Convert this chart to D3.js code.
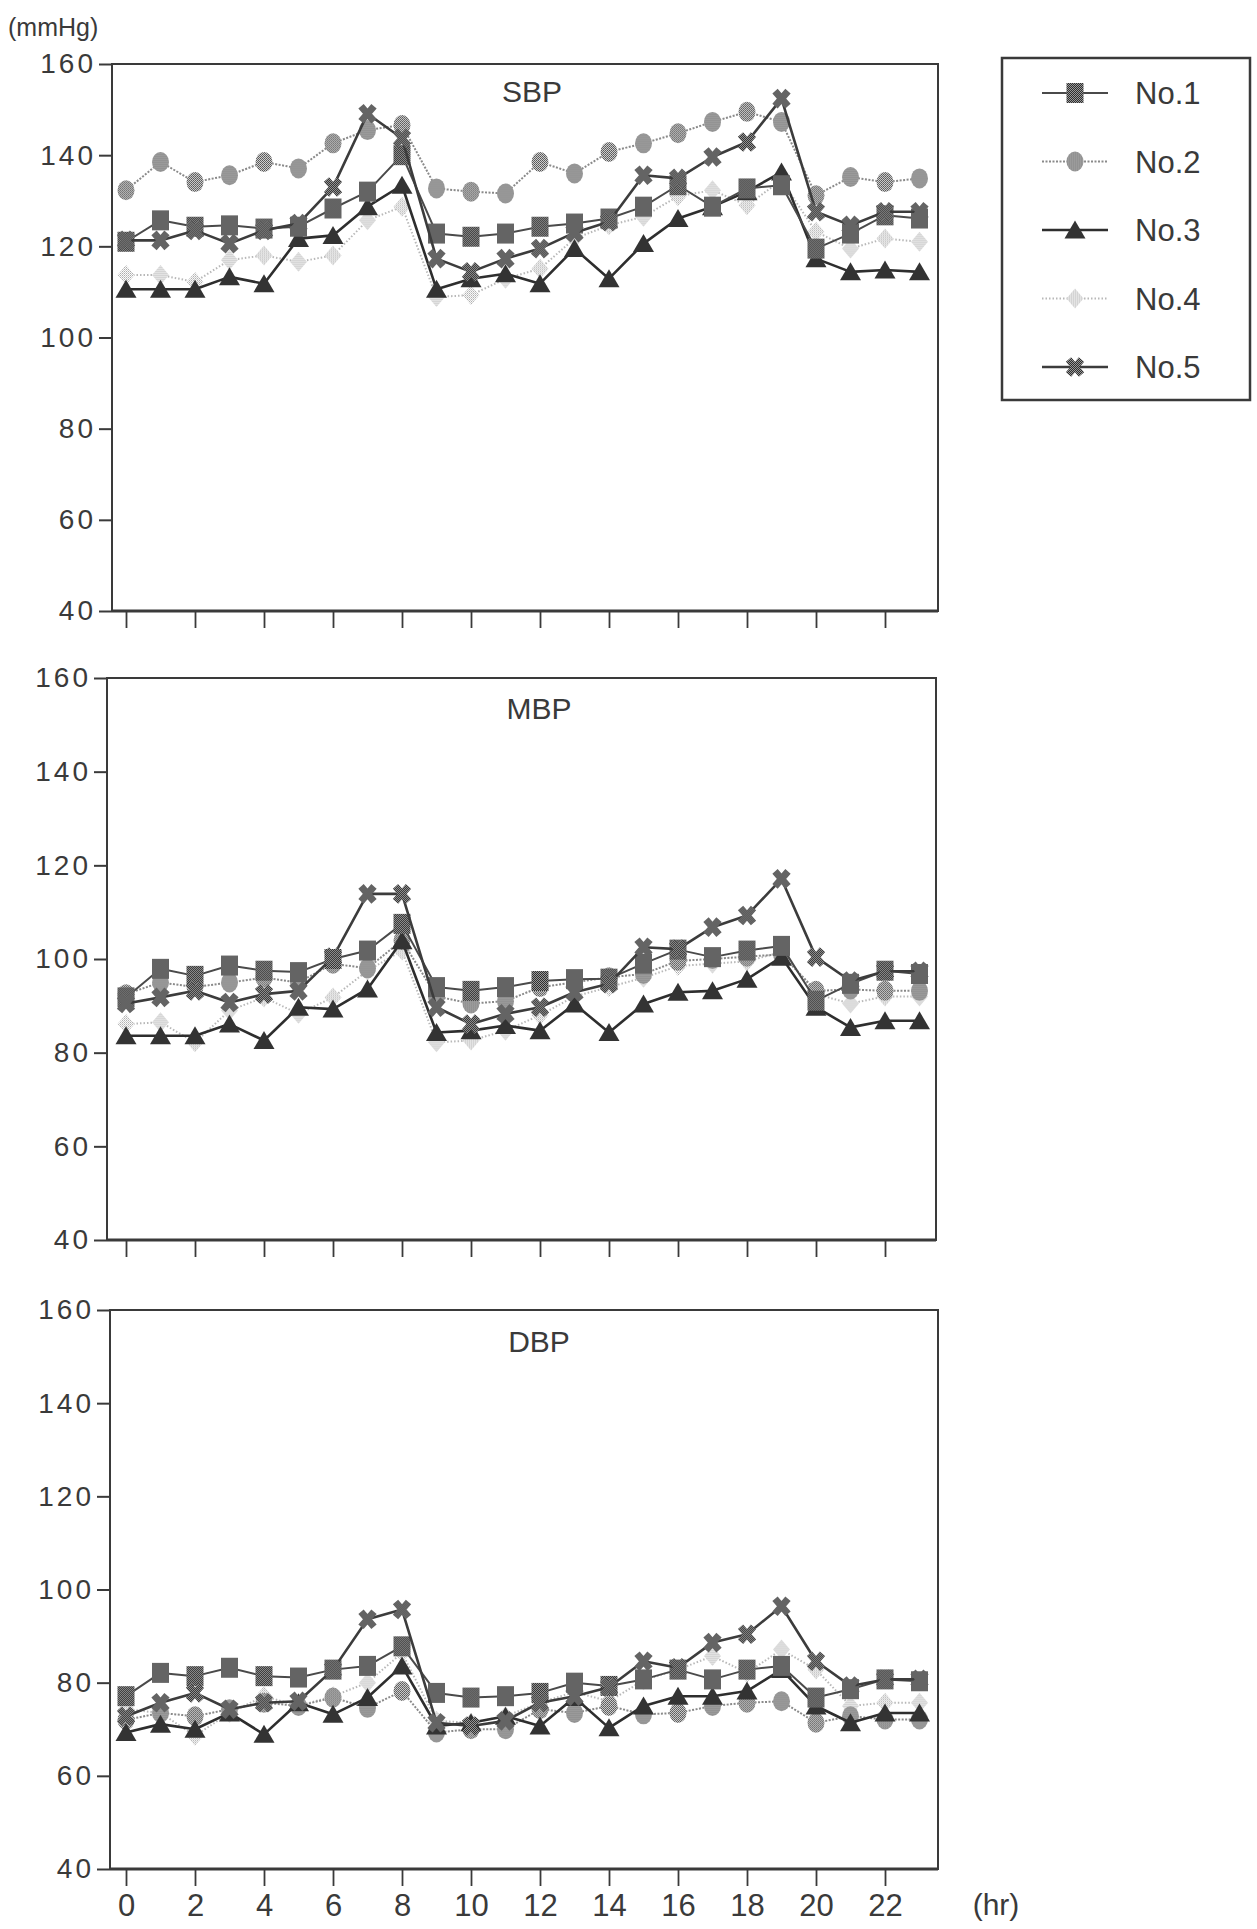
<!DOCTYPE html>
<html>
<head>
<meta charset="utf-8">
<script src="https://cdn.jsdelivr.net/npm/d3@7"></script>
<style>
  html, body { margin: 0; padding: 0; background: #fff; }
  svg { display: block; }
</style>
</head>
<body>
<svg id="chart" width="1257" height="1929"></svg>
<script>
// Hourly ambulatory blood pressure of five subjects (mmHg)
const hours = [0,1,2,3,4,5,6,7,8,9,10,11,12,13,14,15,16,17,18,19,20,21,22,23];
const subjects = ["No.1", "No.2", "No.3", "No.4", "No.5"];
const panelTitles = ["SBP", "MBP", "DBP"];
const yTicks = [40, 60, 80, 100, 120, 140, 160];
const xTicks = [0, 2, 4, 6, 8, 10, 12, 14, 16, 18, 20, 22];

// Systolic
const sbpNo1 = [121, 125.7, 124.3, 124.6, 123.9, 124.3, 128.3, 132, 140, 122.8, 122.1, 122.8, 124.3, 125, 126.1, 128.7, 133.4, 128.7, 132.7, 133.4, 119.5, 122.8, 126.8, 126.1];
const sbpNo2 = [132.3, 138.5, 134.1, 135.6, 138.5, 137.1, 142.6, 145.5, 146.6, 132.7, 132, 131.6, 138.5, 136, 140.7, 142.6, 144.8, 147.3, 149.5, 147.3, 131.2, 135.2, 134.1, 134.9];
const sbpNo3 = [110.6, 110.6, 110.6, 113.3, 111.8, 121.7, 122.4, 128.7, 133.4, 110.6, 112.9, 114, 111.8, 119.5, 112.9, 120.6, 126.1, 128.7, 132, 136.3, 117.3, 114.4, 114.8, 114.4];
const sbpNo4 = [113.7, 113.7, 112.2, 117, 118, 116.6, 118, 125.7, 128.7, 108.9, 109.3, 112.9, 115.1, 121.7, 124.6, 126.5, 131, 132.3, 129, 134.5, 123.2, 119.5, 121.7, 121];
const sbpNo5 = [121.3, 121.3, 123.5, 120.6, 123.5, 125, 133, 149.1, 143.7, 117.3, 114.4, 117.3, 119.5, 123, 125.4, 135.6, 134.9, 139.6, 142.9, 152.4, 127.6, 124.6, 127.6, 127.6];

// Mean
const mbpNo1 = [91.8, 97.9, 96.4, 98.6, 97.5, 97.2, 100, 101.8, 107.5, 94, 93.2, 94, 95.3, 95.7, 95.8, 99, 102, 100.4, 101.8, 102.8, 91.1, 94.7, 97.5, 96.8];
const mbpNo2 = [92.5, 95, 94, 95, 96, 95, 99, 98, 104, 92, 90.5, 91, 94, 95, 96.1, 96.8, 99.6, 100, 100.5, 101, 93.2, 93.5, 93.2, 93.2];
const mbpNo3 = [83.6, 83.6, 83.6, 86.1, 82.6, 89.7, 89.3, 93.6, 103.9, 84.3, 84.7, 85.8, 84.7, 90.4, 84.3, 90.4, 92.9, 93.2, 95.7, 100.4, 89.7, 85.4, 86.8, 86.8];
const mbpNo4 = [86.1, 86.5, 82.2, 89, 91.8, 88.3, 91.8, 97.5, 101.8, 82.2, 82.6, 84.7, 88, 92, 94, 96, 98.5, 99, 99.5, 101.5, 92.5, 90.5, 92, 92];
const mbpNo5 = [90.5, 91.8, 93.2, 90.7, 92.5, 93.2, 100.4, 113.9, 113.9, 89.7, 86.1, 88.3, 89.7, 92.9, 94.7, 102.5, 102.1, 106.8, 109.3, 117.1, 100.4, 95.3, 97.4, 97.4];

// Diastolic
const dbpNo1 = [77.1, 82.1, 81.4, 83.2, 81.4, 81.1, 82.8, 83.6, 87.8, 77.8, 76.8, 77.1, 77.8, 80, 79.3, 80.7, 82.8, 80.7, 82.8, 83.6, 76.8, 78.6, 80.7, 80.3];
const dbpNo2 = [72, 73.5, 72.8, 74.3, 75.7, 75, 76.8, 74.6, 78.2, 69.3, 70, 70, 74.3, 73.5, 75, 73.2, 73.5, 75, 75.7, 76, 71.4, 72.8, 72.1, 72.1];
const dbpNo3 = [69.3, 71.1, 70, 73.5, 68.9, 75.7, 73.2, 76.8, 83.6, 70.7, 71.4, 72.8, 70.7, 76.8, 70.3, 75, 77.1, 77.1, 78.2, 82.8, 75, 71.4, 73.5, 73.5];
const dbpNo4 = [74.3, 73.5, 68.6, 73.5, 77.1, 75, 77.1, 80, 86.4, 71.8, 71.4, 72.8, 75.7, 78, 76, 80.5, 82.8, 85.7, 82.1, 87.1, 82.8, 75, 75.7, 75.7];
const dbpNo5 = [72.8, 75.7, 77.8, 74.3, 75.7, 76, 82.8, 93.6, 95.7, 71.4, 70.7, 71.8, 75.7, 77.1, 79, 84.6, 83.2, 88.6, 90.4, 96.4, 84.6, 79.3, 80.7, 80.7];

const panelData = [
  [sbpNo1, sbpNo2, sbpNo3, sbpNo4, sbpNo5],
  [mbpNo1, mbpNo2, mbpNo3, mbpNo4, mbpNo5],
  [dbpNo1, dbpNo2, dbpNo3, dbpNo4, dbpNo5]
];

const svg = d3.select("#chart");
const ink = "#3a3a3a";
const font = "'Liberation Sans', Arial, Helvetica, sans-serif";
const narrow = "'Liberation Sans Narrow', 'Liberation Sans', Arial, sans-serif";

// Halftone fills
const defs = svg.append("defs");
function halftone(id, base, dots) {
  const p = defs.append("pattern").attr("id", id)
    .attr("width", 2).attr("height", 2).attr("patternUnits", "userSpaceOnUse");
  p.append("rect").attr("width", 2).attr("height", 2).attr("fill", base);
  dots.forEach(([dx, dy, c]) => p.append("rect").attr("x", dx).attr("y", dy)
    .attr("width", 1).attr("height", 1).attr("fill", c));
}
halftone("htDark", "#2e2e2e", [[0, 0, "#999"], [1, 1, "#999"]]);
halftone("htMid", "#cfcfcf", [[0, 0, "#555"], [1, 1, "#666"]]);
halftone("htLight", "#fff", [[0, 0, "#a8a8a8"], [1, 1, "#c8c8c8"]]);

// Per-subject line and marker styling
const styles = [
  { stroke: "#4a4a4a", width: 2, dash: null, marker: "square" },
  { stroke: "#8a8a8a", width: 2, dash: "2,1.5", marker: "circle" },
  { stroke: "#2e2e2e", width: 2.6, dash: null, marker: "triangle" },
  { stroke: "#b8b8b8", width: 2, dash: "1.5,2", marker: "diamond" },
  { stroke: "#3c3c3c", width: 2.6, dash: null, marker: "cross" }
];

function drawMarker(g, type) {
  if (type === "square") {
    g.append("rect").attr("x", -8.5).attr("y", -10).attr("width", 17).attr("height", 20)
      .attr("fill", "url(#htDark)");
  } else if (type === "circle") {
    g.append("ellipse").attr("rx", 8.5).attr("ry", 10).attr("fill", "url(#htMid)");
  } else if (type === "triangle") {
    g.append("path").attr("d", "M0,-9.5L10.5,8.5L-10.5,8.5Z").attr("fill", "#333");
  } else if (type === "diamond") {
    g.append("path").attr("d", "M0,-10L8.5,0L0,10L-8.5,0Z").attr("fill", "url(#htLight)");
  } else if (type === "cross") {
    g.append("path").attr("d", "M-6.5,-7.5L6.5,7.5M6.5,-7.5L-6.5,7.5")
      .attr("stroke", "url(#htDark)").attr("stroke-width", 7).attr("fill", "none");
  }
}

const panels = [
  { left: 112, right: 938, top: 64, bottom: 611, titleX: 532, titleY: 102 },
  { left: 107, right: 936, top: 678, bottom: 1240, titleX: 539, titleY: 719 },
  { left: 110, right: 938, top: 1310, bottom: 1869, titleX: 539, titleY: 1352 }
];

const x = d3.scaleLinear().domain([0, 23]).range([126, 919.5]);
const drawOrder = [3, 1, 2, 0, 4];

panels.forEach((p, pi) => {
  const y = d3.scaleLinear().domain([40, 160]).range([p.bottom, p.top]);
  const g = svg.append("g");

  // frame
  g.append("rect").attr("x", p.left).attr("y", p.top)
    .attr("width", p.right - p.left).attr("height", p.bottom - p.top)
    .attr("fill", "none").attr("stroke", ink).attr("stroke-width", 2);
  g.append("line").attr("x1", p.left).attr("x2", p.right)
    .attr("y1", p.bottom).attr("y2", p.bottom)
    .attr("stroke", ink).attr("stroke-width", 3);

  // y axis
  const yAxis = g.append("g").attr("transform", `translate(${p.left},0)`)
    .call(d3.axisLeft(y).tickValues(yTicks).tickSize(13).tickPadding(3));
  yAxis.select(".domain").remove();
  yAxis.selectAll(".tick line").attr("stroke", ink).attr("stroke-width", 2);
  yAxis.selectAll(".tick text").attr("fill", ink).attr("font-family", font)
    .attr("font-size", 28).attr("letter-spacing", "3px");

  // x axis ticks
  const xAxis = g.append("g").attr("transform", `translate(0,${p.bottom})`)
    .call(d3.axisBottom(x).tickValues(xTicks).tickSize(17).tickPadding(8)
      .tickFormat(pi === 2 ? d3.format("d") : () => ""));
  xAxis.select(".domain").remove();
  xAxis.selectAll(".tick line").attr("stroke", ink).attr("stroke-width", 1.8);
  xAxis.selectAll(".tick text").attr("fill", ink)
    .attr("font-family", narrow).attr("font-size", 31);

  // panel title
  g.append("text").attr("x", p.titleX).attr("y", p.titleY)
    .attr("text-anchor", "middle").attr("font-family", font)
    .attr("font-size", 30).attr("fill", ink).text(panelTitles[pi]);

  // series
  const line = d3.line().x((d, i) => x(hours[i])).y(d => y(d));
  drawOrder.forEach(si => {
    const s = styles[si];
    const vals = panelData[pi][si];
    g.append("path").datum(vals).attr("d", line)
      .attr("fill", "none").attr("stroke", s.stroke).attr("stroke-width", s.width)
      .attr("stroke-dasharray", s.dash).attr("stroke-linejoin", "round");
    g.append("g").selectAll("g").data(vals).join("g")
      .attr("transform", (d, i) => `translate(${x(hours[i])},${y(d)})`)
      .each(function () { drawMarker(d3.select(this), s.marker); });
  });
});

// unit labels
svg.append("text").attr("x", 8).attr("y", 36).attr("font-family", font)
  .attr("font-size", 25).attr("fill", ink).text("(mmHg)");
svg.append("text").attr("x", 996).attr("y", 1915).attr("text-anchor", "middle")
  .attr("font-family", narrow).attr("font-size", 30).attr("fill", ink).text("(hr)");

// legend
const legend = svg.append("g");
legend.append("rect").attr("x", 1002).attr("y", 58).attr("width", 248).attr("height", 342)
  .attr("fill", "#fff").attr("stroke", ink).attr("stroke-width", 2.5);
const legendY = d3.scalePoint().domain(subjects).range([93, 367]);
subjects.forEach((name, si) => {
  const s = styles[si];
  const cy = legendY(name);
  legend.append("line").attr("x1", 1042).attr("x2", 1108).attr("y1", cy).attr("y2", cy)
    .attr("stroke", s.stroke).attr("stroke-width", s.width).attr("stroke-dasharray", s.dash);
  drawMarker(legend.append("g").attr("transform", `translate(1075,${cy})`), s.marker);
  legend.append("text").attr("x", 1135).attr("y", cy).attr("dy", "0.36em")
    .attr("font-family", font).attr("font-size", 31).attr("fill", ink).text(name);
});
</script>
</body>
</html>
